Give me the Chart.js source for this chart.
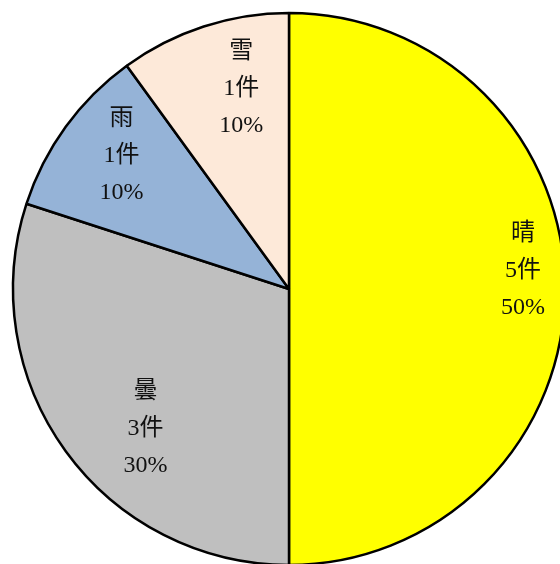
<!DOCTYPE html>
<html>
<head>
<meta charset="utf-8">
<script src="https://cdn.jsdelivr.net/npm/chart.js@4/dist/chart.umd.min.js"></script>
<style>
  html, body { margin: 0; padding: 0; background: #ffffff; overflow: hidden; width: 560px; height: 564px; }
  #c { position: absolute; left: 0; top: 0; }
</style>
</head>
<body>
<canvas id="c" width="578" height="578" style="width:578px;height:578px"></canvas>
<script>
// Data
const categories = ['晴', '曇', '雨', '雪'];
const counts = [5, 3, 1, 1];
const unitLabel = '件';

// Styles
const sliceColors = ['#FFFF00', '#BFBFBF', '#95B3D7', '#FDE9D9'];
// label placement relative to each slice (fraction of radius, angle nudge in degrees)
const labelRadiusFrac = [0.85, 0.725, 0.776, 0.747];
const labelAngleNudge = [-4.4, -8.2, 2.6, 4.6];

const labelPlugin = {
  id: 'sliceLabels',
  afterDatasetsDraw(chart) {
    const ctx = chart.ctx;
    const meta = chart.getDatasetMeta(0);
    const data = chart.data.datasets[0].data;
    const total = data.reduce((a, b) => a + b, 0);
    ctx.save();
    ctx.fillStyle = '#111111';
    ctx.font = '24px "Liberation Serif", "Noto Sans CJK JP", serif';
    ctx.textAlign = 'center';
    ctx.textBaseline = 'middle';
    meta.data.forEach((arc, i) => {
      const p = arc.getProps(['x', 'y', 'startAngle', 'endAngle', 'outerRadius'], true);
      const mid = (p.startAngle + p.endAngle) / 2 + labelAngleNudge[i] * Math.PI / 180;
      const r = p.outerRadius * labelRadiusFrac[i];
      const cx = p.x + Math.cos(mid) * r;
      const cy = p.y + Math.sin(mid) * r;
      const pct = Math.round(data[i] / total * 100);
      const lines = [chart.data.labels[i], data[i] + unitLabel, pct + '%'];
      const lh = 37;
      lines.forEach((t, k) => {
        ctx.fillText(t, cx, cy + (k - 1) * lh);
      });
    });
    ctx.restore();
  }
};

new Chart(document.getElementById('c'), {
  type: 'pie',
  data: {
    labels: categories,
    datasets: [{
      data: counts,
      backgroundColor: sliceColors,
      borderColor: '#000000',
      borderWidth: 2.5
    }]
  },
  options: {
    responsive: false,
    animation: false,
    events: [],
    radius: 276,
    layout: { padding: 0 },
    plugins: {
      legend: { display: false },
      tooltip: { enabled: false },
      title: { display: false }
    }
  },
  plugins: [labelPlugin]
});
</script>
</body>
</html>
